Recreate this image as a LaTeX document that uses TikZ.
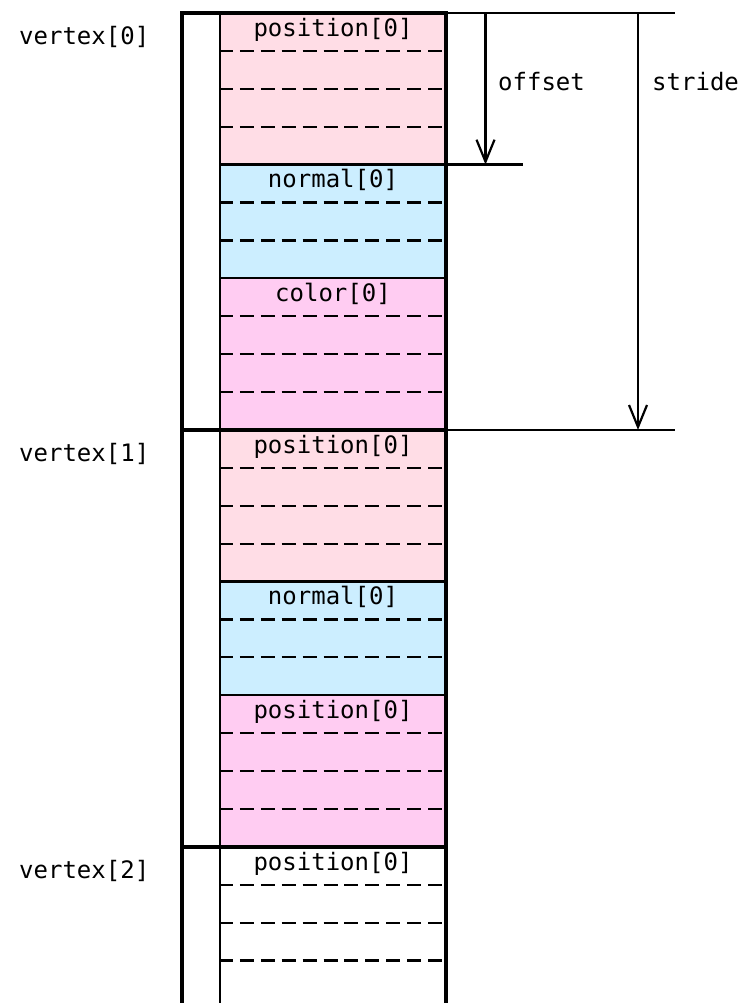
\documentclass[tikz,border=0pt]{standalone}
\usepackage{fontspec}
\setmonofont{DejaVu Sans Mono}
\usetikzlibrary{arrows.meta}
\usetikzlibrary{positioning}

\definecolor{posfill}{RGB}{255,221,230}
\definecolor{nrmfill}{RGB}{204,238,255}
\definecolor{colfill}{RGB}{255,204,242}

\begin{document}
\begin{tikzpicture}[x=1pt,y=-1pt]
    \useasboundingbox (0,0) rectangle (743,1003);

    \tikzset{
        lbl/.style={font=\ttfamily\fontsize{24}{28}\selectfont,inner sep=0pt,anchor=base},
        slot/.style={line width=2.2pt,dash pattern=on 14pt off 6.9pt},
        rim/.style={line width=2.2pt},
        wall/.style={line width=4.5pt,line join=miter},
    }
    \def\rowh{37.9}

    % vertex[0] and vertex[1]
    \foreach \v/\third in {0/color[0],1/position[0]} {
        \pgfmathsetmacro{\base}{13+11*\rowh*\v}
        \fill[posfill] (220,\base) rectangle (446,{\base+4*\rowh});
        \fill[nrmfill] (220,{\base+4*\rowh}) rectangle (446,{\base+7*\rowh});
        \fill[colfill] (220,{\base+7*\rowh}) rectangle (446,{\base+11*\rowh});
        \foreach \r in {1,2,3,5,6,8,9,10}
            \draw[slot] (219,{\base+\r*\rowh}) -- (446,{\base+\r*\rowh});
        \draw[rim] (220,{\base+4*\rowh}) -- (446,{\base+4*\rowh});
        \draw[rim] (220,{\base+7*\rowh}) -- (446,{\base+7*\rowh});
        \node[lbl] (pos\v) at (333,{\base+24}) {position[0]};
        \node[lbl] (nrm\v) at (333,{\base+4*\rowh+23}) {normal[0]};
        \node[lbl] (col\v) at (333,{\base+7*\rowh+23}) {\third};
        \node[lbl,anchor=base west] (vtx\v) at (19,{\base+32}) {vertex[\v]};
    }

    % vertex[2], cut off at the bottom
    \pgfmathsetmacro{\base}{13+22*\rowh}
    \foreach \r in {1,2,3}
        \draw[slot] (219,{\base+\r*\rowh}) -- (446,{\base+\r*\rowh});
    \node[lbl] (pos2) at (333,{\base+24}) {position[0]};
    \node[lbl,anchor=base west] (vtx2) at (19,{\base+32}) {vertex[2]};

    % buffer walls
    \draw[rim] (220,13) -- (220,1003);
    \draw[wall] (182,1003) -- (182,13) -- (446,13) -- (446,1003);
    \draw[wall] (180,{13+11*\rowh}) -- (446,{13+11*\rowh});
    \draw[wall] (180,{13+22*\rowh}) -- (446,{13+22*\rowh});

    % offset and stride
    \draw[rim] (446,13) -- (675,13);
    \draw[rim] (446,{13+4*\rowh}) -- (523,{13+4*\rowh});
    \draw[rim] (446,{13+11*\rowh}) -- (675,{13+11*\rowh});

    \coordinate (offTop) at (485.5,13);
    \coordinate (offEnd) at (485.5,{13+4*\rowh});
    \coordinate (strTop) at (638,13);
    \coordinate (strEnd) at (638,{13+11*\rowh});

    \begin{scope}[>={Straight Barb[length=22pt,width=18pt]}]
        \draw[rim,->] (offTop) -- (offEnd);
        \draw[rim,->] (strTop) -- (strEnd);
    \end{scope}

    \node[lbl,anchor=base west] (offset) at (498,91) {offset};
    \node[lbl,anchor=base west] (stride) at (652,91) {stride};

\end{tikzpicture}
\end{document}
